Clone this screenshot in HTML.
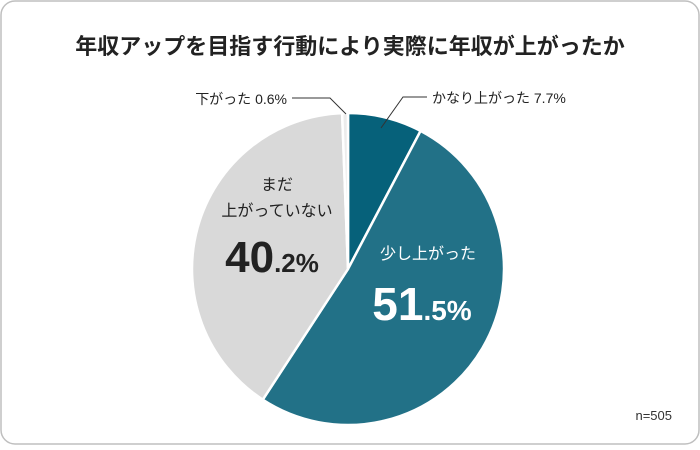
<!DOCTYPE html>
<html><head><meta charset="utf-8"><style>
body{margin:0;background:#fff}
svg text{font-family:"Liberation Sans","Noto Sans CJK JP",sans-serif}
</style></head><body>
<svg width="700" height="445" viewBox="0 0 700 445">
<rect x="1" y="1" width="698" height="443" rx="14" fill="#fff" stroke="#bfbfbf" stroke-width="1.5"/>
<text x="350" y="54" text-anchor="middle" font-size="22" font-weight="bold" fill="#222">年収アップを目指す行動により実際に年収が上がったか</text>
<g id="slices"></g>
<polyline points="292,98 330,98 346,114" fill="none" stroke="#333" stroke-width="1"/>
<polyline points="427,97 403,97 381,128" fill="none" stroke="#333" stroke-width="1"/>
<text x="287" y="104" text-anchor="end" font-size="14" fill="#222">下がった 0.6%</text>
<text x="432" y="103" font-size="14" fill="#222">かなり上がった 7.7%</text>
<text x="277" y="190" text-anchor="middle" font-size="16" fill="#222">まだ</text>
<text x="277" y="216" text-anchor="middle" font-size="16" fill="#222">上がっていない</text>
<text x="272" y="272" text-anchor="middle" fill="#222" font-weight="bold"><tspan font-size="44">40</tspan><tspan font-size="26">.2%</tspan></text>
<text x="428" y="259" text-anchor="middle" font-size="16" fill="#fff">少し上がった</text>
<text x="422" y="320" text-anchor="middle" fill="#fff" font-weight="bold"><tspan font-size="46">51</tspan><tspan font-size="28">.5%</tspan></text>
<text x="672" y="420" text-anchor="end" font-size="13" fill="#333">n=505</text>
</svg>
<script>
const categories=["かなり上がった","少し上がった","まだ上がっていない","下がった"];
const values=[7.7,51.5,40.2,0.6];
const colors=["#06617a","#227187","#d9d9d9","#ececec"];
const cx=348,cy=269,r=156;
const g=document.getElementById('slices');
const total=values.reduce((a,b)=>a+b,0);
let a0=0;
values.forEach((v,i)=>{
  const a1=a0+v/total*2*Math.PI;
  const p=(a)=>[cx+r*Math.sin(a),cy-r*Math.cos(a)];
  const [x0,y0]=p(a0),[x1,y1]=p(a1);
  const path=document.createElementNS('http://www.w3.org/2000/svg','path');
  path.setAttribute('d',`M${cx},${cy}L${x0},${y0}A${r},${r} 0 ${a1-a0>Math.PI?1:0} 1 ${x1},${y1}Z`);
  path.setAttribute('fill',colors[i]);
  path.setAttribute('stroke','#fff');
  path.setAttribute('stroke-width','2.5');
  
  
  g.appendChild(path);
  a0=a1;
});
</script>
</body></html>
